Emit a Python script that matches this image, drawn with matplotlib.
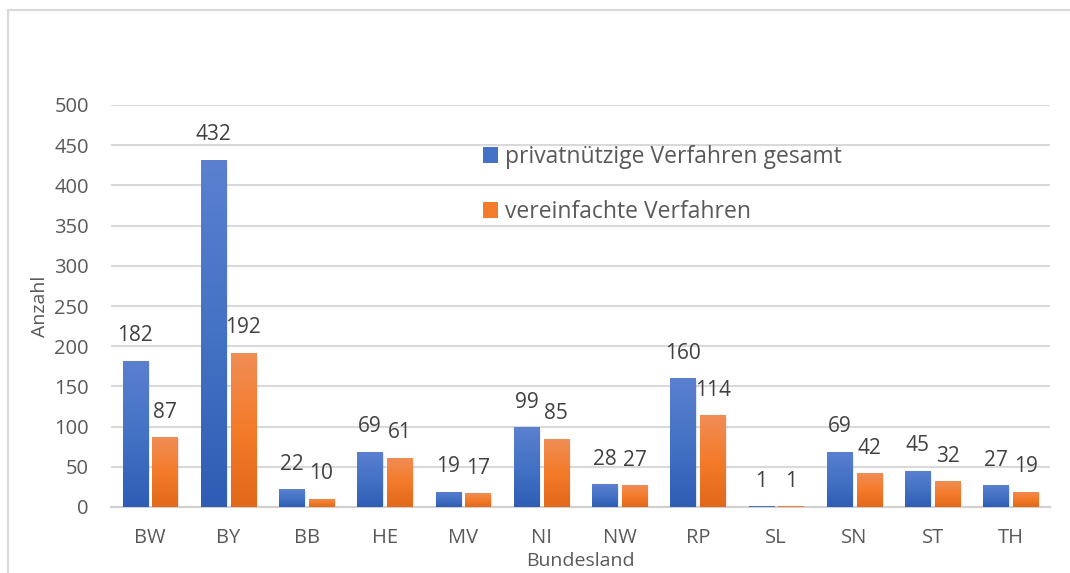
import numpy as np
import matplotlib
matplotlib.use("Agg")
import matplotlib.pyplot as plt
from matplotlib.colors import LinearSegmentedColormap
from matplotlib.patches import Rectangle
from matplotlib.lines import Line2D

plt.rcParams['font.family'] = ['Open Sans', 'DejaVu Sans']

# data
laender = ['BW', 'BY', 'BB', 'HE', 'MV', 'NI', 'NW', 'RP', 'SL', 'SN', 'ST', 'TH']
gesamt = [182, 432, 22, 69, 19, 99, 28, 160, 1, 69, 45, 27]
vereinfacht = [87, 192, 10, 61, 17, 85, 27, 114, 1, 42, 32, 19]
series_names = ['privatnützige Verfahren gesamt', 'vereinfachte Verfahren']
yticks = [0, 50, 100, 150, 200, 250, 300, 350, 400, 450, 500]

W, H = 1070, 573
fig = plt.figure(figsize=(W / 100, H / 100), dpi=100)
ax = fig.add_axes([111 / W, 66 / H, (1050 - 111) / W, (507 - 105) / H])

blue_cmap = LinearSegmentedColormap.from_list('b', ['#2f5db5', '#4472c4', '#5b80d0'])
orange_cmap = LinearSegmentedColormap.from_list('o', ['#e2681a', '#f47b2a', '#f08d56'])

x = np.arange(len(laender))
bw = 0.32
off = 0.19

px_x = 1 / 78.25          # one pixel in data units (x)
px_y = 500 / 402          # one pixel in data units (y)

def draw_bars(xpos, vals, cmap, label, color):
    bars = ax.bar(xpos, vals, bw, color=color, label=label, zorder=3)
    grad = np.linspace(0, 1, 256).reshape(-1, 1)
    for b in bars:
        bx, bwid, bh = b.get_x(), b.get_width(), b.get_height()
        # soft shadow
        for k, a in [(4, 0.05), (3, 0.07), (2, 0.09), (1, 0.1)]:
            ax.add_patch(Rectangle((bx + k * px_x * 0.6, -k * px_y * 0.5), bwid,
                                   bh, facecolor='#808080', alpha=a,
                                   edgecolor='none', zorder=2.5))
        im = ax.imshow(grad, extent=[bx, bx + bwid, 0, bh], origin='lower',
                       cmap=cmap, aspect='auto', zorder=3.5)
        im.set_clip_path(b)
    for xi, v in zip(xpos, vals):
        ax.annotate(str(v), (xi, v), xytext=(0, 18), textcoords='offset points',
                    ha='center', va='center', fontsize=15, color='#404040', zorder=5)
    return bars

draw_bars(x - off, gesamt, blue_cmap, series_names[0], '#4472c4')
draw_bars(x + off, vereinfacht, orange_cmap, series_names[1], '#f47b2a')

ax.set_xlim(-0.5, len(laender) - 0.5)
ax.set_ylim(0, 500)
ax.set_yticks(yticks)
ax.set_xticks(x)
ax.set_xticklabels(laender)
ax.grid(axis='y', color='#d9d9d9', linewidth=1.5, zorder=0)
ax.set_axisbelow(True)
for s in ['top', 'right', 'left']:
    ax.spines[s].set_visible(False)
ax.spines['bottom'].set_color('#d0d0d0')
ax.spines['bottom'].set_linewidth(1.5)
ax.tick_params(axis='both', length=0, labelsize=14.5, labelcolor='#595959')
ax.tick_params(axis='y', pad=16)
ax.tick_params(axis='x', pad=15)

ax.set_ylabel('Anzahl', fontsize=14, color='#595959', labelpad=4)
ax.set_xlabel('Bundesland', fontsize=14, color='#595959', labelpad=3)

leg = ax.legend(loc='upper left', bbox_to_anchor=(483 / W, 1 - 145 / H),
                bbox_transform=fig.transFigure, frameon=False, fontsize=16.5,
                handlelength=0.65, handleheight=0.65, handletextpad=0.3,
                labelspacing=1.35, borderpad=0, borderaxespad=0)
for t in leg.get_texts():
    t.set_color('#595959')

# outer chart border
fig.add_artist(Line2D([8 / W, 8 / W], [0, 1 - 10 / H], transform=fig.transFigure,
                      color='#d9d9d9', linewidth=1.5))
fig.add_artist(Line2D([8 / W, 1], [1 - 10 / H, 1 - 10 / H], transform=fig.transFigure,
                      color='#d9d9d9', linewidth=1.5))

fig.savefig('out.png', dpi=100)
